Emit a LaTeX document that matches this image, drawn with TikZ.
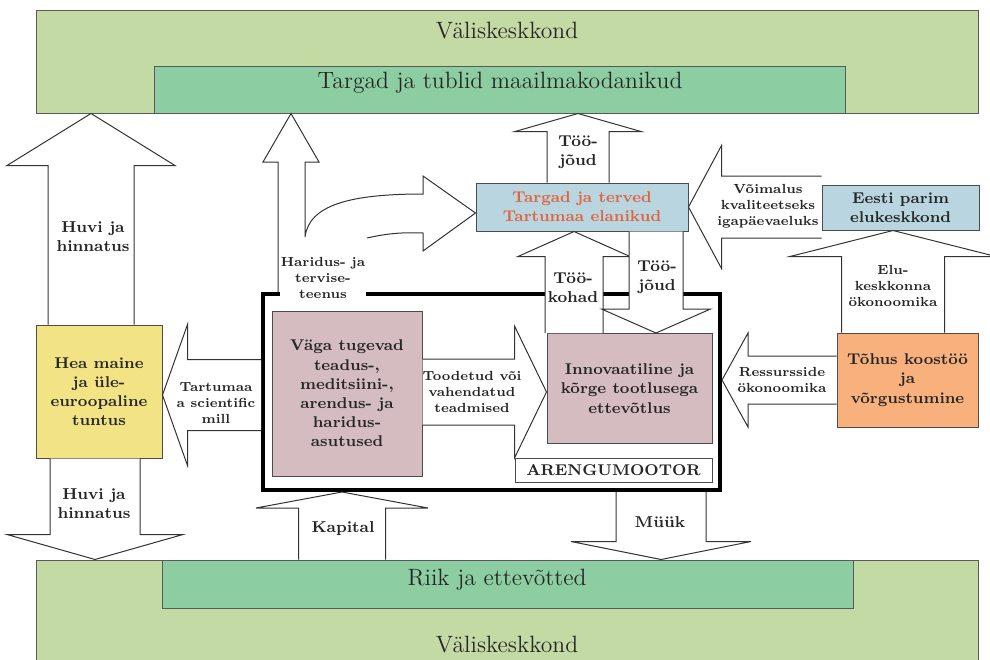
\documentclass[tikz,border=0pt]{standalone}
\usepackage{fontspec}
\usetikzlibrary{calc}

\definecolor{heleroheline}{HTML}{C4DAA4}
\definecolor{roheline}{HTML}{8CCDA2}
\definecolor{kollane}{HTML}{F2E384}
\definecolor{roosa}{HTML}{D5BCC0}
\definecolor{helesinine}{HTML}{B9D5E0}
\definecolor{oranz}{HTML}{F8B07C}
\definecolor{punane}{HTML}{E0653E}

\tikzset{
  band/.style={draw=black!65,line width=0.5pt,fill=#1,inner sep=0pt},
  bandtxt/.style={font=\fontsize{11.8}{14}\selectfont,text=black!85},
  box/.style={draw=black!70,line width=0.5pt,fill=#1,inner sep=1pt,align=center,
    font=\fontsize{7.8}{9.6}\selectfont\bfseries,text=black!85},
  barrow/.style={draw=black!80,line width=0.5pt,fill=white},
  midtxt/.style={font=\fontsize{7.9}{9.6}\selectfont\bfseries,align=center,text=black!85},
  arrtxt/.style={font=\fontsize{6.6}{7.9}\selectfont\bfseries,align=center,text=black!85}
}

% block arrow up/down: base, tip, half shaft, half head, head length (+ up, - down)
\newcommand\varr[5]{%
  \draw[barrow] ($(#1)+(-#3,0)$) -- ($(#2)+(-#3,#5)$) -- ($(#2)+(-#4,#5)$) -- (#2)
    -- ($(#2)+(#4,#5)$) -- ($(#2)+(#3,#5)$) -- ($(#1)+(#3,0)$);}
% block arrow left/right: base, tip, half shaft, half head, head length (+ left, - right)
\newcommand\harr[5]{%
  \draw[barrow] ($(#1)+(0,-#3)$) -- ($(#2)+(#5,-#3)$) -- ($(#2)+(#5,-#4)$) -- (#2)
    -- ($(#2)+(#5,#4)$) -- ($(#2)+(#5,#3)$) -- ($(#1)+(0,#3)$);}

\begin{document}
\begin{tikzpicture}[x=0.5pt,y=-0.5pt]
\useasboundingbox (0,0) rectangle (990,659);

% valiskeskkond ylal ja all
\node (valtop) [band=heleroheline,minimum width=471pt,minimum height=51.5pt] at (507,61.5) {};
\node (tublid) [band=roheline,minimum width=345.5pt,minimum height=23.5pt] at (499.5,89.5) {};
\node (valbot) [band=heleroheline,minimum width=471pt,minimum height=56pt] at (507,616) {};
\node (riik) [band=roheline,minimum width=345.5pt,minimum height=24pt] at (507.5,584) {};
\node (valtoptxt) [bandtxt] at (507,31) {Väliskeskkond};
\node (tublidtxt) [bandtxt] at (500,83) {Targad ja tublid maailmakodanikud};
\node (riiktxt) [bandtxt] at (497,580) {Riik ja ettevõtted};
\node (valbottxt) [bandtxt] at (507,645) {Väliskeskkond};

% arengumootor
\node (motor) [draw,line width=2pt,minimum width=228.5pt,minimum height=98pt] at (491.5,392) {};
\fill[white] (280,289) rectangle (366,299);

% kastid
\node (hea) [box=kollane,minimum width=63pt,minimum height=66.5pt] at (99,391.5)
  {Hea maine\\ja üle-\\euroopaline\\tuntus};
\node (teadus) [box=roosa,minimum width=75pt,minimum height=82.5pt] at (347,393.5)
  {Väga tugevad\\teadus-,\\meditsiini-,\\arendus- ja\\haridus-\\asutused};
\node (inno) [box=roosa,minimum width=82.5pt,minimum height=55pt] at (629.5,388.5)
  {Innovaatiline ja\\kõrge tootlusega\\ettevõtlus};
\node (motorlbl) [box=white,minimum width=98.5pt,minimum height=12pt] at (613.5,470) {ARENGUMOOTOR};
\node (targad) [box=helesinine,minimum width=106pt,minimum height=24pt,text=punane] at (582,207)
  {Targad ja terved\\Tartumaa elanikud};
\node (eesti) [box=helesinine,minimum width=78.5pt,minimum height=22.5pt] at (900.5,207.5)
  {Eesti parim\\elukeskkond};
\node (tohus) [box=oranz,minimum width=70.5pt,minimum height=47pt] at (907.5,380)
  {Tõhus koostöö\\ja\\võrgustumine};

% nooled
\varr{91,0 |- hea.north}{91,0 |- valtop.south}{43}{84}{52}
\varr{95,0 |- hea.south}{95,0 |- valbot.north}{45}{88}{-25}
\varr{578,0 |- targad.north}{578,0 |- tublid.south}{31}{63}{18}
\varr{574,0 |- inno.north}{574,0 |- targad.south}{29}{56}{25}
\varr{656,0 |- targad.south}{656,0 |- inno.north}{27}{54.5}{-24}
\varr{893,0 |- tohus.north}{893,0 |- eesti.south}{51.5}{103}{26}
\varr{342,0 |- riik.north}{342,0 |- motor.south}{43.5}{86}{16}
\varr{661,0 |- motor.south}{661,0 |- riik.north}{45}{90}{-18}
\harr{motor.west |- 0,395}{hea.east |- 0,395}{35.5}{70.5}{25}
\harr{teadus.east |- 0,392}{inno.west |- 0,392}{33}{66}{-32}
\harr{eesti.west |- 0,207}{targad.east |- 0,207}{31}{61.5}{33}
\harr{tohus.west |- 0,380}{motor.east |- 0,380}{24}{47}{26}
\draw[barrow] (278,0 |- motor.north) -- (278,162) -- (263,162) -- (291,0 |- tublid.south)
  -- (319,162) -- (305,162) -- (305,237) .. controls (309,205) and (350,194) .. (423,194)
  -- (423,176) -- ($(targad.west)+(0,6)$) -- (423,251) -- (423,233)
  .. controls (400,232) and (385,234) .. (367,238);

% noolte tekstid
\node (huvi1) [midtxt] at (93,237) {Huvi ja\\hinnatus};
\node (huvi2) [midtxt] at (94,504) {Huvi ja\\hinnatus};
\node (haridus) [arrtxt] at (323,278) {Haridus- ja\\tervise-\\teenus};
\node (tjoud1) [midtxt] at (578,152) {Töö-\\jõud};
\node (tkohad) [midtxt] at (573,288) {Töö-\\kohad};
\node (tjoud2) [midtxt] at (657,277) {Töö-\\jõud};
\node (tartumaa) [arrtxt] at (216,403) {Tartumaa\\a scientific\\mill};
\node (toodetud) [arrtxt] at (472,392) {Toodetud või\\vahendatud\\teadmised};
\node (voimalus) [arrtxt] at (768,206) {Võimalus\\kvaliteetseks\\igapäevaeluks};
\node (elu) [arrtxt] at (893,286) {Elu-\\keskkonna\\ökonoomika};
\node (ressurss) [arrtxt] at (782,380) {Ressursside\\ökonoomika};
\node (kapital) [midtxt] at (343,529) {Kapital};
\node (myyk) [midtxt] at (660,522) {Müük};
\end{tikzpicture}
\end{document}
